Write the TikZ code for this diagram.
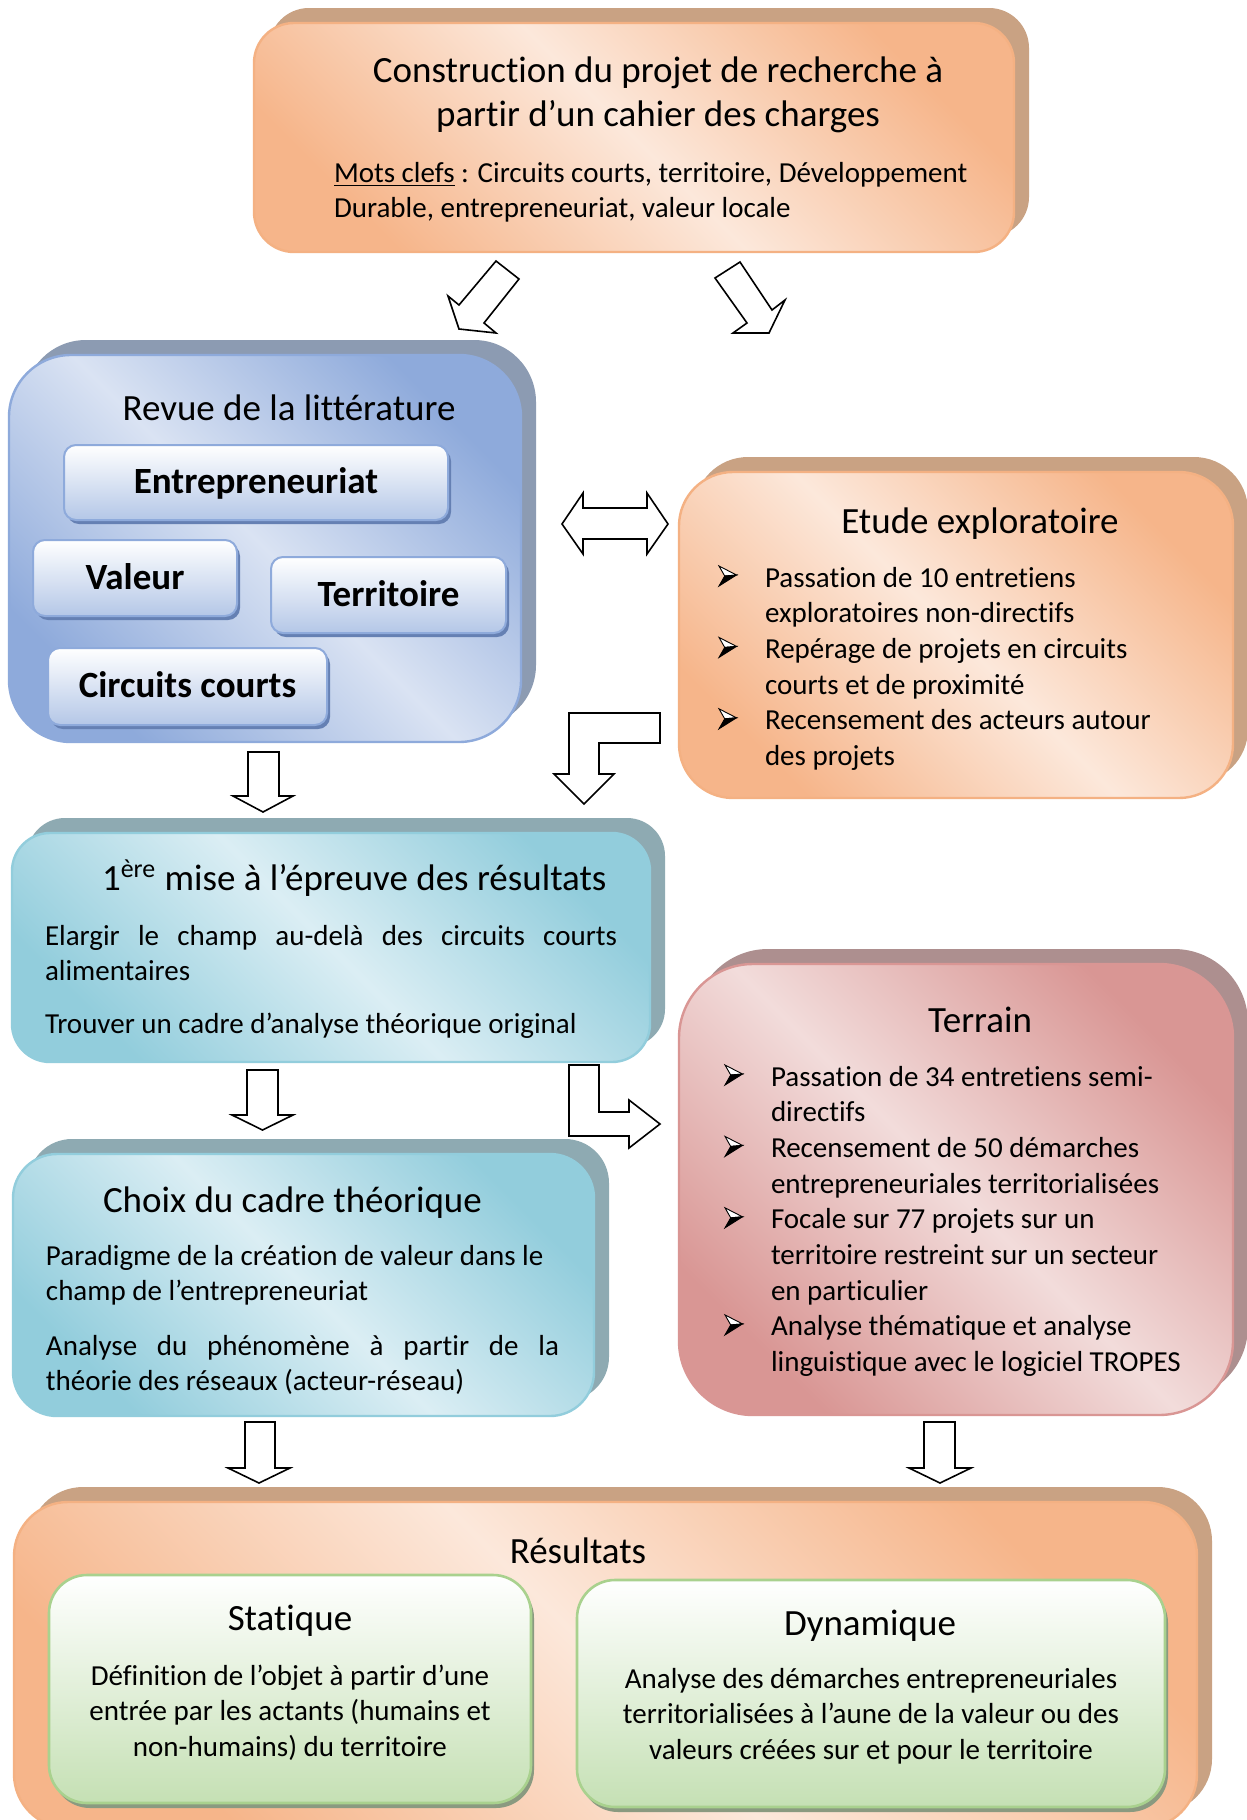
\documentclass[tikz,border=0pt]{standalone}
\usepackage{fontspec}
\setmainfont{Carlito}[Ligatures={NoCommon}]
\usetikzlibrary{shadows}
\definecolor{orDark}{HTML}{F6B58A}
\definecolor{orLight}{HTML}{FCE8DB}
\definecolor{orBorder}{HTML}{F4B183}
\definecolor{orShadow}{HTML}{C9A283}
\definecolor{blDark}{HTML}{8EAADB}
\definecolor{blLight}{HTML}{DAE3F3}
\definecolor{blBorder}{HTML}{8EAADB}
\definecolor{blShadow}{HTML}{8C9BB2}
\definecolor{blSub}{HTML}{B4C7E7}
\definecolor{blSubShadow}{HTML}{6580B3}
\definecolor{tlDark}{HTML}{92CDDC}
\definecolor{tlLight}{HTML}{DBEEF4}
\definecolor{tlBorder}{HTML}{92CDDC}
\definecolor{tlShadow}{HTML}{8EAAB2}
\definecolor{rdDark}{HTML}{D99694}
\definecolor{rdLight}{HTML}{F2DCDB}
\definecolor{rdBorder}{HTML}{D99694}
\definecolor{rdShadow}{HTML}{AD8F8F}
\definecolor{grSub}{HTML}{C5E0B4}
\definecolor{grBorder}{HTML}{A9D18E}
\definecolor{grShadow}{HTML}{8A9A80}

\newcommand\titf{\fontsize{18.5pt}{22pt}\selectfont}
\newcommand\bodyf{\fontsize{14.5pt}{17.85pt}\selectfont}
\newcommand\boldf{\fontsize{18.5pt}{22pt}\selectfont\bfseries}
\newcommand\indA{\hspace*{23.5pt}}
\newcommand\indB{\hspace*{22.5pt}}

\newcommand\bx[7]{\node[#2, minimum width={(#5-#3)*0.5pt}, minimum height={(#6-#4)*0.5pt}] (#1) at ({(#3+#5)/2},{(#4+#6)/2}) {#7};}
\newcommand\darrow[7]{\draw[blockarrow] (#1,#3) -- (#2,#3) -- (#2,#4) -- (#6,#4) -- ({(#5+#6)/2},#7) -- (#5,#4) -- (#1,#4) -- cycle;}
\newcommand\bulletat[2]{%
 \draw[bulletline, fill=white] ({#1},{#2-21}) -- ({#1+17.5},{#2-12}) -- ({#1+5.7},{#2-11}) -- cycle;
 \filldraw[bulletline] ({#1+5.7},{#2-11}) -- ({#1+17.5},{#2-12}) -- ({#1},{#2-1}) -- cycle;}

\tikzset{
 bigbox/.style={rectangle, line width=1.2pt, inner sep=0pt},
 grad/.style n args={2}{left color=#1, right color=#1, middle color=#2, shading angle=135},
 bshadow/.style={general shadow={fill=#1, shadow xshift=7.5pt, shadow yshift=7.5pt}},
 orangebox/.style={bigbox, draw=orBorder, bshadow=orShadow, grad={orDark}{orLight}},
 bluebox/.style={bigbox, draw=blBorder, bshadow=blShadow, grad={blDark}{blLight}},
 tealbox/.style={bigbox, draw=tlBorder, bshadow=tlShadow, grad={tlDark}{tlLight}},
 redbox/.style={bigbox, draw=rdBorder, bshadow=rdShadow, grad={rdDark}{rdLight}},
 subbox/.style={rectangle, rounded corners=6pt, line width=1pt, draw=blBorder,
   top color=white, bottom color=blSub,
   general shadow={fill=blSubShadow, shadow xshift=1.5pt, shadow yshift=-2pt},
   font=\boldf, text height=11pt, text depth=0pt, inner sep=0pt},
 greenbox/.style={rectangle, rounded corners=19pt, line width=1.3pt, draw=grBorder,
   top color=white, bottom color=grSub,
   general shadow={fill=grShadow, shadow xshift=1.5pt, shadow yshift=-2.5pt},
   inner sep=0pt},
 txt/.style={inner sep=0pt, outer sep=0pt},
 blockarrow/.style={draw=black, fill=white, line width=0.8pt, line join=miter},
 bulletline/.style={draw=black, line width=0.45pt, line join=miter},
}

\begin{document}
\begin{tikzpicture}[x=0.5pt,y=-0.5pt]
\useasboundingbox (0,0) rectangle (1247,1820);
\fill[white] (0,0) rectangle (1247,1820);

% ---------- top box ----------
\bx{top}{orangebox, rounded corners=20pt}{254}{23}{1014}{252}{}
\node[txt, anchor=base] (toptitle) at (658,82) {\parbox[t]{380pt}{\centering\titf Construction du projet de recherche à\\partir d’un cahier des charges}};
\node[txt, anchor=base west] (topkw) at (334,182) {\parbox[t]{340pt}{\raggedright\bodyf \underline{Mots clefs} : Circuits courts, territoire, Développement\\Durable, entrepreneuriat, valeur locale}};

% arrows from top box
\draw[blockarrow] (496,261) -- (519,279) -- (484,323) -- (496,333) -- (459,329) -- (448,296) -- (459,305) -- cycle;
\draw[blockarrow] (740,262) -- (772,310) -- (785,300) -- (769,333) -- (733,333) -- (747,323) -- (715,278) -- cycle;

% ---------- revue ----------
\bx{revue}{bluebox, rounded corners=31pt}{9}{355}{521}{742}{}
\node[txt, anchor=base, font=\titf] (revuetitle) at (289,420) {Revue de la littérature};
\bx{entre}{subbox}{64}{445}{448}{520}{Entrepreneuriat}
\bx{valeur}{subbox}{33}{540}{237}{616}{Valeur}
\bx{terri}{subbox}{271}{557}{506}{633}{Territoire}
\bx{circ}{subbox}{48}{648}{327}{725}{Circuits courts}

% double arrow
\draw[blockarrow] (562,524) -- (583,493) -- (583,508) -- (647,508) -- (647,493) -- (668,524) -- (647,554) -- (647,539) -- (583,539) -- (583,554) -- cycle;

% ---------- etude ----------
\bx{etude}{orangebox, rounded corners=27pt}{679}{472}{1233}{798}{}
\node[txt, anchor=base, font=\titf] (etudetitle) at (980,533) {Etude exploratoire};
\node[txt, anchor=base west] (etudelist) at (718,587) {\parbox[t]{250pt}{\raggedright\bodyf
\indA Passation de 10 entretiens\\
\indA exploratoires non-directifs\\
\indA Repérage de projets en circuits\\
\indA courts et de proximité\\
\indA Recensement des acteurs autour\\
\indA des projets}};
\bulletat{719}{587}
\bulletat{719}{658.4}
\bulletat{719}{729.8}

% bent arrow etude -> mise
\draw[blockarrow] (569,713) -- (660,713) -- (660,743) -- (599,743) -- (599,774) -- (614,774) -- (584,804) -- (554,774) -- (569,774) -- cycle;
% down arrow revue -> mise
\darrow{248}{279}{752}{796}{233}{293}{812}

% ---------- 1ere mise ----------
\bx{mise}{tealbox, rounded corners=19pt}{12}{833}{650}{1062}{}
\node[txt, anchor=base west, font=\titf] (misetitle) at (102,890) {1\textsuperscript{ère} mise à l’épreuve des résultats};
\node[txt, anchor=base west] (misep1) at (45,945) {\parbox[t]{300pt}{\raggedright\bodyf\makebox[286pt][s]{Elargir le champ au-delà des circuits courts}\\alimentaires}};
\node[txt, anchor=base west, font=\bodyf] (misep2) at (45,1033) {Trouver un cadre d’analyse théorique original};

% arrows from mise
\darrow{247}{278}{1070}{1115}{232}{293}{1130}
\draw[blockarrow] (569,1065) -- (599,1065) -- (599,1112) -- (629,1112) -- (629,1100) -- (660,1124) -- (629,1148) -- (629,1136) -- (569,1136) -- cycle;

% ---------- choix ----------
\bx{choix}{tealbox, rounded corners=22pt}{13}{1154}{594}{1416}{}
\node[txt, anchor=base west, font=\titf] (choixtitle) at (103,1212) {Choix du cadre théorique};
\node[txt, anchor=base west] (choixp1) at (46,1265) {\parbox[t]{280pt}{\raggedright\bodyf Paradigme de la création de valeur dans le\\champ de l’entrepreneuriat}};
\node[txt, anchor=base west] (choixp2) at (46,1355) {\parbox[t]{280pt}{\raggedright\bodyf\makebox[256.5pt][s]{Analyse du phénomène à partir de la}\\théorie des réseaux (acteur-réseau)}};

% ---------- terrain ----------
\bx{terrain}{redbox, rounded corners=37pt}{679}{964}{1233}{1415}{}
\node[txt, anchor=base, font=\titf] (terraintitle) at (980,1032) {Terrain};
\node[txt, anchor=base west] (terrainlist) at (726,1086) {\parbox[t]{250pt}{\raggedright\bodyf
\indB Passation de 34 entretiens semi-\\
\indB directifs\\
\indB Recensement de 50 démarches\\
\indB entrepreneuriales territorialisées\\
\indB Focale sur 77 projets sur un\\
\indB territoire restreint sur un secteur\\
\indB en particulier\\
\indB Analyse thématique et analyse\\
\indB linguistique avec le logiciel TROPES}};
\bulletat{725}{1086}
\bulletat{725}{1157.4}
\bulletat{725}{1228.8}
\bulletat{725}{1335.9}

% arrows to resultats
\darrow{245}{275}{1422}{1468}{228}{290}{1483}
\darrow{924}{955}{1422}{1468}{909}{971}{1483}

% ---------- resultats ----------
\bx{res}{orangebox, rounded corners=27pt}{14}{1502}{1197}{1828}{}
\node[txt, anchor=base, font=\titf] (restitle) at (578,1563) {Résultats};
\bx{stat}{greenbox}{49}{1575}{531}{1803}{}
\node[txt, anchor=base, font=\titf] (stattitle) at (290,1630) {Statique};
\node[txt, anchor=base] (stattext) at (290,1685) {\parbox[t]{230pt}{\centering\bodyf Définition de l’objet à partir d’une\\entrée par les actants (humains et\\non-humains) du territoire}};
\bx{dyn}{greenbox}{577}{1580}{1165}{1807}{}
\node[txt, anchor=base, font=\titf] (dyntitle) at (870,1635) {Dynamique};
\node[txt, anchor=base] (dyntext) at (871,1688) {\parbox[t]{280pt}{\centering\bodyf Analyse des démarches entrepreneuriales\\territorialisées à l’aune de la valeur ou des\\valeurs créées sur et pour le territoire}};
\end{tikzpicture}
\end{document}
